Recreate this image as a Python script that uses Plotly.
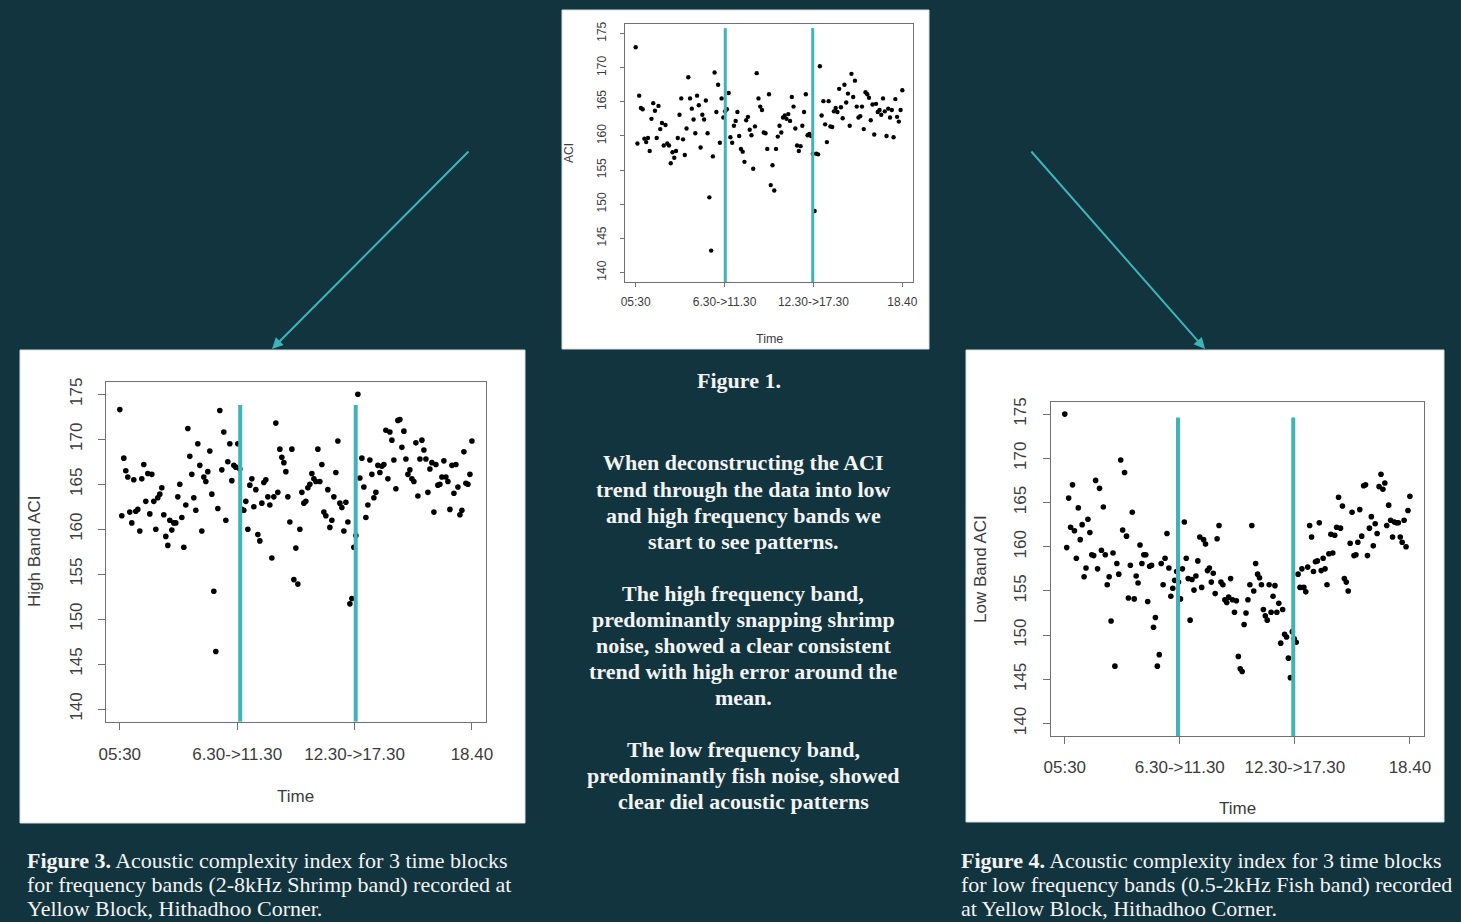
import plotly.graph_objects as go

# ---------------- data ----------------
time_tick_labels = ["05:30", "6.30->11.30", "12.30->17.30", "18.40"]
time_tick_fracs = [0.0, 1 / 3, 2 / 3, 1.0]

fig1_aci = [
    173.0, 158.9, 165.9, 164.1, 163.9, 159.6, 159.1, 159.7, 157.8, 162.5,
    164.8, 163.7, 159.7, 164.4, 161.0, 161.9, 158.6, 161.6, 158.9, 158.6,
    156.0, 157.6, 156.8, 157.8, 159.7, 163.1, 165.5, 159.5, 157.2, 161.1,
    168.6, 165.5, 164.0, 162.4, 160.4, 165.9, 164.5, 158.3, 163.1, 162.4,
    165.2, 160.4, 151.0, 143.2, 157.0, 169.3, 163.5, 167.5, 159.0, 165.5,
    162.7, 163.6, 163.9, 166.3, 159.8, 159.0, 161.5, 162.2, 163.5, 160.0,
    158.1, 157.7, 156.2, 162.3, 162.8, 160.9, 160.1, 155.2, 161.4, 169.2,
    165.5, 164.3, 163.8, 160.5, 160.4, 158.1, 166.1, 152.8, 155.7, 152.0,
    158.1, 159.9, 161.5, 160.5, 162.7, 163.0, 162.5, 163.2, 162.2, 165.7,
    164.3, 161.1, 158.6, 157.8, 158.5, 161.5, 163.5, 166.1, 160.1, 160.3,
    160.0, 157.4, 149.0, 157.4, 157.3, 170.2, 163.0, 165.1, 161.7, 159.1,
    165.1, 161.4, 161.3, 163.6, 164.1, 163.5, 166.9, 164.2, 162.6, 167.5,
    164.9, 166.2, 161.5, 169.1, 165.7, 168.1, 164.3, 162.7, 162.9, 164.3,
    161.0, 166.4, 166.1, 165.6, 162.3, 164.6, 160.2, 164.7, 163.5, 163.8,
    163.1, 165.5, 163.6, 160.0, 164.0, 162.7, 163.8, 159.8, 165.4, 162.8,
    162.1, 163.8, 166.7,
]

high_band_aci = [
    173.3, 161.5, 167.9, 166.5, 165.8, 161.9, 160.7, 165.5, 162.0, 162.2,
    159.8, 165.6, 167.2, 163.1, 166.2, 161.7, 166.1, 163.1, 160.0, 163.5,
    163.9, 164.6, 161.6, 159.2, 158.2, 161.0, 159.9, 160.7, 160.7, 163.6,
    165.0, 161.3, 158.0, 162.7, 171.2, 168.1, 166.1, 163.5, 162.1, 169.5,
    167.1, 159.8, 165.8, 165.3, 166.4, 168.7, 163.9, 153.1, 146.4, 162.3,
    173.2, 166.6, 170.8, 161.0, 167.5, 169.5, 165.4, 167.1, 166.9, 169.5,
    166.7, 162.2, 162.1, 163.1, 160.0, 164.9, 165.6, 162.5, 164.4, 159.4,
    158.7, 162.9, 165.2, 165.5, 163.6, 162.7, 156.8, 163.6, 171.8, 164.1,
    168.9, 168.0, 167.4, 166.4, 163.6, 160.8, 168.9, 154.4, 157.9, 153.9,
    160.0, 164.1, 162.9, 163.1, 164.6, 165.0, 166.2, 165.6, 165.3, 168.9,
    165.3, 167.2, 161.9, 161.5, 164.4, 160.2, 161.0, 163.6, 166.3, 169.8,
    162.9, 162.4, 159.8, 163.0, 160.8, 151.7, 152.3, 158.0, 159.3, 175.0,
    165.7, 167.9, 164.7, 161.3, 162.7, 167.7, 166.1, 163.5, 164.1, 167.1,
    166.3, 167.0, 167.2, 171.0, 165.6, 170.8, 169.9, 167.7, 164.5, 172.1,
    172.2, 169.1, 170.9, 167.8, 166.1, 166.6, 165.6, 165.3, 169.6, 163.7,
    167.8, 169.9, 168.8, 167.8, 164.1, 166.7, 167.4, 161.9, 167.2, 164.9,
    165.0, 165.8, 167.6, 165.8, 165.3, 162.2, 167.1, 164.0, 167.2, 164.7,
    161.6, 162.1, 168.6, 165.1, 165.0, 166.1, 169.8,
]

low_band_aci = [
    175.0, 159.9, 165.5, 162.2, 167.0, 161.8, 158.7, 164.4, 160.8, 162.5,
    156.6, 157.6, 163.1, 161.6, 159.1, 159.0, 167.5, 157.5, 166.6, 159.6,
    164.5, 159.1, 155.7, 156.6, 151.6, 159.3, 146.5, 158.1, 156.9, 169.8,
    161.9, 168.4, 161.2, 154.2, 157.9, 163.9, 154.1, 156.7, 155.9, 160.2,
    158.1, 159.1, 159.1, 153.8, 157.8, 157.9, 150.9, 152.0, 146.5, 147.8,
    158.1, 155.7, 158.7, 161.5, 157.6, 154.4, 155.3, 156.2, 157.2, 156.0,
    154.1, 157.5, 162.8, 158.7, 156.4, 151.7, 156.3, 155.1, 156.7, 158.4,
    161.1, 155.4, 160.8, 160.3, 157.3, 157.6, 156.0, 157.0, 154.7, 160.9,
    162.4, 156.0, 155.7, 154.0, 153.7, 154.3, 156.4, 154.0, 152.6, 153.9,
    147.6, 146.2, 145.9, 151.2, 152.5, 154.0, 155.7, 162.4, 155.0, 158.1,
    156.9, 156.5, 155.7, 152.9, 152.2, 151.7, 155.7, 152.6, 154.4, 155.6,
    152.6, 153.6, 149.1, 152.9, 150.1, 149.8, 147.4, 145.2, 150.4, 149.6,
    149.2, 156.9, 155.4, 157.5, 155.4, 154.9, 157.7, 162.4, 161.1, 157.2,
    158.3, 158.4, 162.7, 157.3, 158.7, 157.5, 155.7, 159.2, 161.4, 159.3,
    161.3, 162.2, 165.6, 162.1, 164.6, 156.4, 156.0, 155.0, 160.4, 163.9,
    159.0, 159.1, 160.5, 164.2, 161.2, 166.9, 167.0, 159.0, 162.1, 163.4,
    160.1, 162.6, 161.5, 166.8, 168.2, 166.5, 167.2, 162.4, 164.7, 163.0,
    161.1, 162.8, 162.7, 162.7, 161.1, 160.5, 163.0, 160.0, 164.1, 165.7,
]

# time-block boundaries (fraction of the sampled timeline) and the height
# the vertical block marker reaches (ACI units)
fig1_block_fracs = [0.336, 0.664]
fig1_block_top = 175.8
fig3_block_fracs = [0.342, 0.670]
fig3_block_top = 173.8
fig4_block_fracs = [0.328, 0.662]
fig4_block_top = 174.6

y_ticks = [140, 145, 150, 155, 160, 165, 170, 175]

body_lines = [
    "When deconstructing the ACI",
    "trend through the data into low",
    "and high frequency bands we",
    "start to see patterns.",
    "",
    "The high frequency band,",
    "predominantly snapping shrimp",
    "noise, showed a clear consistent",
    "trend with high error around the",
    "mean.",
    "",
    "The low frequency band,",
    "predominantly fish noise, showed",
    "clear diel acoustic patterns",
]

fig3_caption = [
    "<b>Figure 3.</b> Acoustic complexity index for 3 time blocks",
    "for frequency bands (2-8kHz Shrimp band) recorded at",
    "Yellow Block, Hithadhoo Corner.",
]
fig4_caption = [
    "<b>Figure 4.</b> Acoustic complexity index for 3 time blocks",
    "for low frequency bands (0.5-2kHz Fish band) recorded",
    "at Yellow Block, Hithadhoo Corner.",
]

# ---------------- styling / layout ----------------
W, H = 1461, 922
BG = "#11343f"
TEAL = "#3fb4b6"
SANS = "Liberation Sans, Arial, sans-serif"
SERIF = "Liberation Serif, Times New Roman, serif"


def px(x):
    return x / W


def py(y):
    return 1 - y / H


fig = go.Figure()

panels = [
    (fig1_aci, fig1_block_fracs, fig1_block_top, "", 4.4, 3),
    (high_band_aci, fig3_block_fracs, fig3_block_top, "2", 5.6, 4),
    (low_band_aci, fig4_block_fracs, fig4_block_top, "3", 5.6, 4),
]

Y_LO, Y_HI = 138.6, 176.4

for vals, fracs, top, suf, msize, lw in panels:
    n = len(vals)
    xs = list(range(n))
    fig.add_trace(go.Scatter(
        x=xs, y=vals, mode="markers",
        marker=dict(color="black", size=msize),
        xaxis="x" + suf, yaxis="y" + suf, showlegend=False,
        hoverinfo="skip",
    ))
    for f in fracs:
        xb = f * (n - 1)
        fig.add_trace(go.Scatter(
            x=[xb, xb], y=[Y_LO, top], mode="lines",
            line=dict(color=TEAL, width=lw),
            xaxis="x" + suf, yaxis="y" + suf, showlegend=False,
            hoverinfo="skip",
        ))


def axis_pair(vals, xdom, ydom, fs, tlen, xstand, ystand):
    n = len(vals) - 1
    common = dict(
        showline=True, mirror=True, linecolor="#707070", linewidth=1,
        ticks="outside", ticklen=tlen, tickcolor="#707070",
        showgrid=False, zeroline=False, automargin=False,
        tickfont=dict(family=SANS, size=fs, color="#3c3c3c"),
    )
    xa = dict(
        domain=xdom, range=[-0.04 * n, 1.04 * n],
        tickvals=[f * n for f in time_tick_fracs], ticktext=time_tick_labels,
        ticklabelstandoff=xstand, **common,
    )
    ya = dict(
        domain=ydom, range=[Y_LO, Y_HI], tickvals=y_ticks, tickangle=-90,
        ticklabelstandoff=ystand, **common,
    )
    return xa, ya


xa1, ya1 = axis_pair(fig1_aci, [px(625), px(913)], [py(282), py(24)], 12, 4, 5, 9)
xa2, ya2 = axis_pair(high_band_aci, [px(105.7), px(486)], [py(721.7), py(381.7)], 17, 7, 10, 9)
xa3, ya3 = axis_pair(low_band_aci, [px(1051), px(1423.7)], [py(736), py(401.7)], 17, 7, 9, 10)
xa1["anchor"] = "y"
ya1["anchor"] = "x"
xa2["anchor"] = "y2"
ya2["anchor"] = "x2"
xa3["anchor"] = "y3"
ya3["anchor"] = "x3"

shapes = []
for (x0, y0, x1, y1) in [(562, 10, 929, 349), (20, 350, 525, 823), (966, 350, 1444, 822)]:
    shapes.append(dict(
        type="rect", xref="paper", yref="paper", layer="below",
        x0=px(x0), x1=px(x1), y0=py(y1), y1=py(y0),
        fillcolor="white", line=dict(color="#d8dede", width=1),
    ))

annotations = []


def label(text, x, y, size, angle=0, family=SANS, color="#3c3c3c",
          xanchor="center"):
    annotations.append(dict(
        text=text, x=px(x), y=py(y), xref="paper", yref="paper",
        showarrow=False, textangle=angle, xanchor=xanchor, yanchor="middle",
        font=dict(family=family, size=size, color=color),
    ))


# axis titles
label("ACI", 569, 153, 12, angle=-90)
label("Time", 769, 339, 12.5)
label("High Band ACI", 34, 551, 17, angle=-90)
label("Time", 295, 796, 17)
label("Low Band ACI", 980, 569, 17, angle=-90)
label("Time", 1237, 808, 17)

WHITE = "#f3f3f3"
label("<b>Figure 1.</b>", 739, 380, 22, family=SERIF, color=WHITE)

for i, line in enumerate(body_lines):
    if line:
        label("<b>" + line + "</b>", 743, 463 + 26 * i, 22, family=SERIF,
              color=WHITE)

for lines, x in [(fig3_caption, 25), (fig4_caption, 959)]:
    for i, line in enumerate(lines):
        label(line, x, 860 + 24 * i, 22, family=SERIF, color=WHITE,
              xanchor="left")

# arrows from Figure 1 towards the band plots
for hx, hy, tx, ty in [(272, 349, 470, 150), (1205, 349, 1030, 150)]:
    annotations.append(dict(
        text="", x=px(hx), y=py(hy), xref="paper", yref="paper",
        ax=tx - hx, ay=ty - hy, axref="pixel", ayref="pixel",
        showarrow=True, arrowhead=2, arrowsize=1.1, arrowwidth=2,
        arrowcolor=TEAL,
    ))

fig.update_layout(
    width=W, height=H,
    margin=dict(l=0, r=0, t=0, b=0, pad=0, autoexpand=False),
    paper_bgcolor=BG, plot_bgcolor="white",
    xaxis=xa1, yaxis=ya1, xaxis2=xa2, yaxis2=ya2, xaxis3=xa3, yaxis3=ya3,
    shapes=shapes, annotations=annotations, showlegend=False,
)

fig.write_html(
    "out.html",
    config={"displayModeBar": False, "responsive": False},
    post_script="document.body.style.margin='0px';"
                "document.body.style.overflow='hidden';"
                "document.documentElement.style.overflow='hidden';"
                "document.body.style.background='" + BG + "';",
)
